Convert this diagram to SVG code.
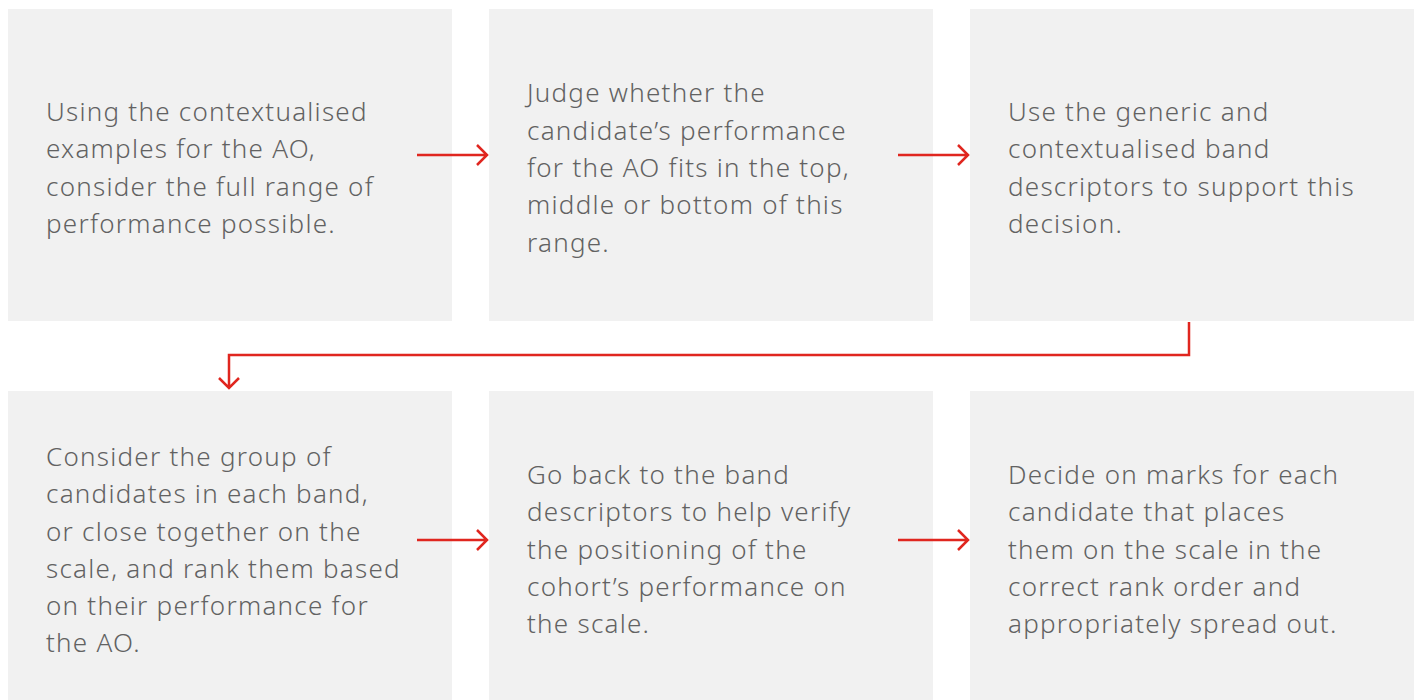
<svg xmlns="http://www.w3.org/2000/svg" width="1418" height="700" viewBox="0 0 1418 700">
<defs>
<style>
.box{fill:#f1f1f1}
.t{font-family:"Noto Sans",Lato,sans-serif;font-weight:300;font-size:26px;letter-spacing:1.25px;fill:#626262}
.c{fill:none;stroke:#e0261f;stroke-width:2.5}
</style>
</defs>
<rect width="1418" height="700" fill="#ffffff"/>
<g id="n1"><rect class="box" x="8" y="9" width="444" height="312"/>
<text class="t"><tspan x="46" y="121">Using the contextualised</tspan><tspan x="46" y="158">examples for the AO,</tspan><tspan x="46" y="196">consider the full range of</tspan><tspan x="46" y="233">performance possible.</tspan></text></g>
<g id="n2"><rect class="box" x="489" y="9" width="444" height="312"/>
<text class="t"><tspan x="527" y="102">Judge whether the</tspan><tspan x="527" y="140">candidate’s performance</tspan><tspan x="527" y="177">for the AO fits in the top,</tspan><tspan x="527" y="214">middle or bottom of this</tspan><tspan x="527" y="252">range.</tspan></text></g>
<g id="n3"><rect class="box" x="970" y="9" width="444" height="312"/>
<text class="t"><tspan x="1008" y="121">Use the generic and</tspan><tspan x="1008" y="158">contextualised band</tspan><tspan x="1008" y="196">descriptors to support this</tspan><tspan x="1008" y="233">decision.</tspan></text></g>
<g id="n4"><rect class="box" x="8" y="391" width="444" height="309"/>
<text class="t"><tspan x="46" y="466">Consider the group of</tspan><tspan x="46" y="503">candidates in each band,</tspan><tspan x="46" y="541">or close together on the</tspan><tspan x="46" y="578">scale, and rank them based</tspan><tspan x="46" y="615">on their performance for</tspan><tspan x="46" y="652">the AO.</tspan></text></g>
<g id="n5"><rect class="box" x="489" y="391" width="444" height="309"/>
<text class="t"><tspan x="527" y="484">Go back to the band</tspan><tspan x="527" y="521">descriptors to help verify</tspan><tspan x="527" y="559">the positioning of the</tspan><tspan x="527" y="596">cohort’s performance on</tspan><tspan x="527" y="633">the scale.</tspan></text></g>
<g id="n6"><rect class="box" x="970" y="391" width="444" height="309"/>
<text class="t"><tspan x="1008" y="484">Decide on marks for each</tspan><tspan x="1008" y="521">candidate that places</tspan><tspan x="1008" y="559">them on the scale in the</tspan><tspan x="1008" y="596">correct rank order and</tspan><tspan x="1008" y="633">appropriately spread out.</tspan></text></g>
<g id="connectors">
<path class="c" d="M417 155H487M477 145L487 155L477 165"/>
<path class="c" d="M898 155H968M958 145L968 155L958 165"/>
<path class="c" d="M1189 322V355H229V388M219 378L229 388L239 378"/>
<path class="c" d="M417 540H487M477 530L487 540L477 550"/>
<path class="c" d="M898 540H968M958 530L968 540L958 550"/>
</g>
</svg>
